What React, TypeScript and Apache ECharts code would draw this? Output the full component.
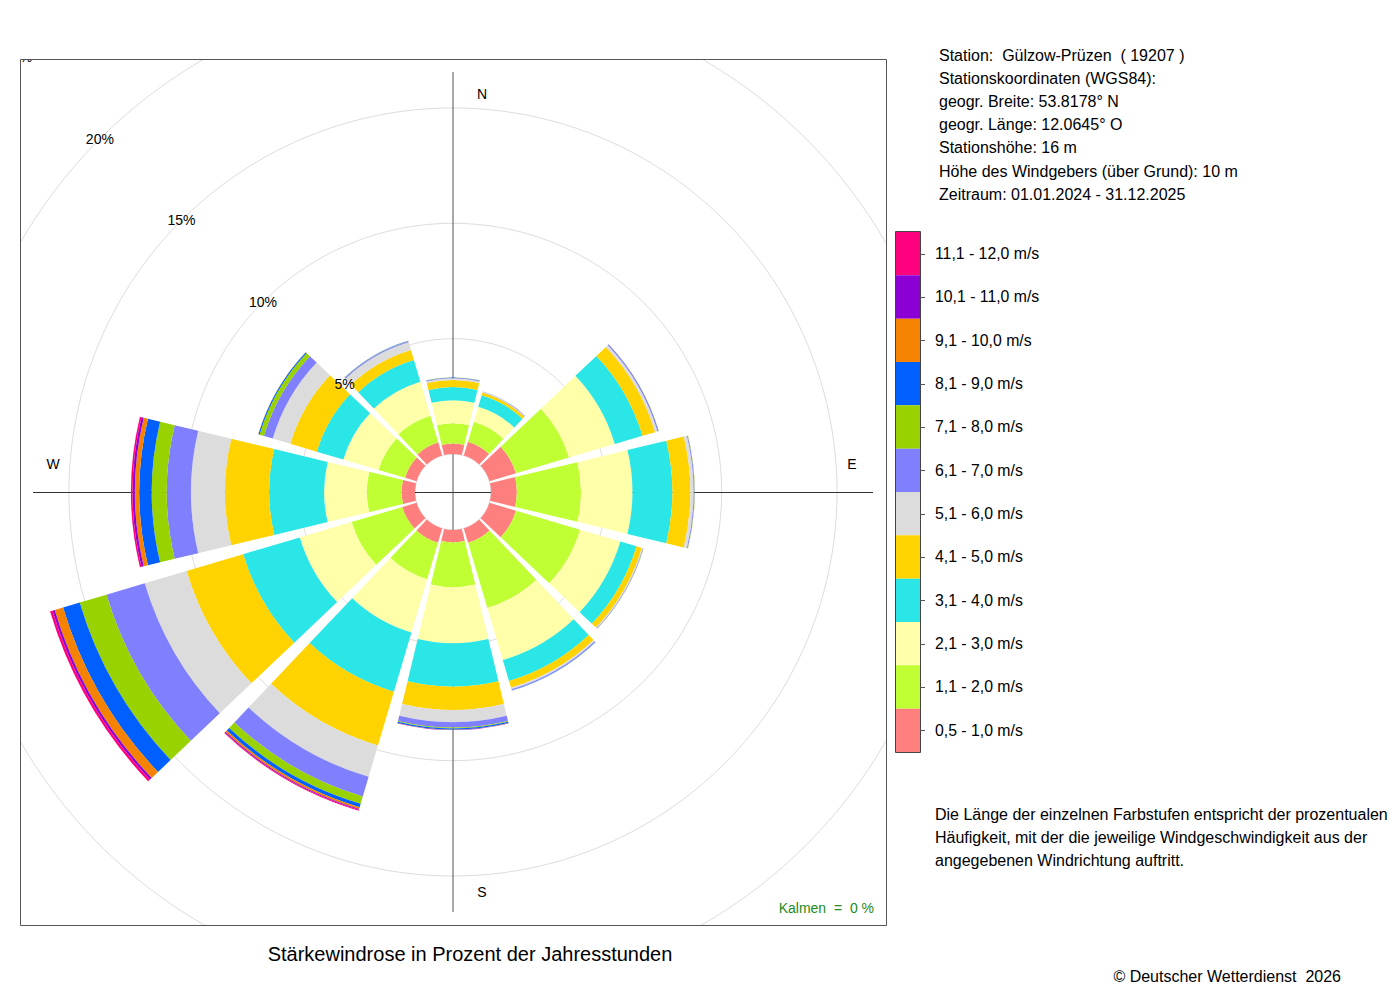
import React, { useEffect, useRef } from 'react';
import * as echarts from 'echarts';

// ---------- data ----------
const directions = ['N', 'NNO', 'ONO', 'O', 'OSO', 'SSO', 'S', 'SSW', 'WSW', 'W', 'WNW', 'NNW'];
const speedClasses = [
  '0,5 - 1,0 m/s', '1,1 - 2,0 m/s', '2,1 - 3,0 m/s', '3,1 - 4,0 m/s',
  '4,1 - 5,0 m/s', '5,1 - 6,0 m/s', '6,1 - 7,0 m/s', '7,1 - 8,0 m/s',
  '8,1 - 9,0 m/s', '9,1 - 10,0 m/s', '10,1 - 11,0 m/s', '11,1 - 12,0 m/s',
];
const classColors = [
  '#FF7F7F', '#BFFF33', '#FFFFAA', '#2AE6E6', '#FFD300', '#DCDCDC',
  '#8080FF', '#98D200', '#0060FF', '#F58200', '#8B00D4', '#FF007F',
];
// percentage of hours per direction (order as in directions)
const s05_10 = [0.45, 0.63, 1.20, 1.12, 1.20, 0.65, 0.54, 0.65, 0.65, 0.58, 0.52, 0.60];
const s11_20 = [0.88, 0.90, 2.40, 2.78, 2.90, 2.95, 1.94, 1.65, 2.29, 1.51, 1.20, 1.20];
const s21_30 = [1.00, 0.68, 2.07, 2.23, 1.82, 2.35, 2.43, 2.40, 2.34, 1.85, 1.59, 1.54];
const s31_40 = [0.57, 0.52, 1.25, 1.73, 0.73, 0.95, 1.88, 2.68, 2.56, 2.38, 1.20, 0.98];
const s41_50 = [0.31, 0.12, 0.57, 0.78, 0.24, 0.30, 1.01, 2.43, 2.56, 1.92, 1.20, 0.45];
const s51_60 = [0.07, 0.03, 0.11, 0.14, 0.05, 0.07, 0.53, 1.42, 1.89, 1.47, 0.79, 0.35];
const s61_70 = [0.03, 0.02, 0.05, 0.04, 0.02, 0.04, 0.23, 0.89, 1.73, 1.05, 0.40, 0.05];
const s71_80 = [0.01, 0.00, 0.01, 0.01, 0.01, 0.01, 0.04, 0.33, 1.21, 0.65, 0.20, 0.01];
const s81_90 = [0.01, 0.00, 0.00, 0.00, 0.00, 0.01, 0.05, 0.15, 0.75, 0.54, 0.05, 0.01];
const s91_100 = [0.00, 0.00, 0.00, 0.00, 0.00, 0.00, 0.01, 0.08, 0.38, 0.19, 0.01, 0.00];
const s101_110 = [0.00, 0.00, 0.00, 0.00, 0.00, 0.00, 0.01, 0.04, 0.10, 0.10, 0.00, 0.00];
const s111_120 = [0.00, 0.00, 0.00, 0.00, 0.00, 0.00, 0.00, 0.04, 0.11, 0.07, 0.00, 0.00];
const classValues = [s05_10, s11_20, s21_30, s31_40, s41_50, s51_60, s61_70, s71_80, s81_90, s91_100, s101_110, s111_120];

const radiusMax = 25;
const radiusStep = 5;

const stationLines = [
  'Station:  Gülzow-Prüzen  ( 19207 )',
  'Stationskoordinaten (WGS84):',
  'geogr. Breite: 53.8178° N',
  'geogr. Länge: 12.0645° O',
  'Stationshöhe: 16 m',
  'Höhe des Windgebers (über Grund): 10 m',
  'Zeitraum: 01.01.2024 - 31.12.2025',
];
const noteLines = [
  'Die Länge der einzelnen Farbstufen entspricht der prozentualen',
  'Häufigkeit, mit der die jeweilige Windgeschwindigkeit aus der',
  'angegebenen Windrichtung auftritt.',
];
const titleText = 'Stärkewindrose in Prozent der Jahresstunden';
const calmText = 'Kalmen  =  0 %';
const copyrightText = '© Deutscher Wetterdienst  2026';
const compassLabels = ['N', 'E', 'S', 'W'];

// ---------- layout ----------
const FONT = '"Liberation Sans", Arial, Helvetica, sans-serif';
const CX = 453;
const CY = 492;
const R0 = 38;
const PX_PER_PCT = 23.07;
const R1 = R0 + radiusMax * PX_PER_PCT;
const FRAME = { x: 20, y: 59, w: 866, h: 866 };
const LEG = { x: 896, y: 232, w: 24, h: 520 };

function txt(text: string, x: number, y: number, size: number, align = 'left', color = '#000', z = 10) {
  return {
    type: 'text',
    x,
    y,
    z,
    silent: true,
    style: {
      text,
      fill: color,
      fontSize: size,
      fontFamily: FONT,
      textAlign: align,
      align,
      textVerticalAlign: 'middle',
      verticalAlign: 'middle',
    },
  };
}

export default function App() {
  const ref = useRef<HTMLDivElement>(null);

  useEffect(() => {
    if (!ref.current) return;
    const chart = echarts.init(ref.current, undefined, { renderer: 'svg' });

    const itemH = LEG.h / speedClasses.length;
    const graphics: any[] = [];

    // masks clipping the polar grid to the frame
    const white = { fill: '#ffffff' };
    graphics.push({ type: 'rect', z: 5, silent: true, shape: { x: 0, y: 0, width: 1400, height: FRAME.y }, style: white });
    graphics.push({ type: 'rect', z: 5, silent: true, shape: { x: 0, y: 0, width: FRAME.x, height: 1000 }, style: white });
    graphics.push({ type: 'rect', z: 5, silent: true, shape: { x: FRAME.x + FRAME.w, y: 0, width: 600, height: 1000 }, style: white });
    graphics.push({ type: 'rect', z: 5, silent: true, shape: { x: 0, y: FRAME.y + FRAME.h, width: 1400, height: 200 }, style: white });
    // frame
    graphics.push({
      type: 'rect', z: 6, silent: true,
      shape: { x: FRAME.x + 0.5, y: FRAME.y + 0.5, width: FRAME.w, height: FRAME.h },
      style: { fill: 'none', stroke: '#555555', lineWidth: 1 },
    });
    // cross lines (behind bars)
    graphics.push({ type: 'line', z: 1, silent: true, shape: { x1: CX, y1: 72, x2: CX, y2: 912 }, style: { stroke: '#555555', lineWidth: 1 } });
    graphics.push({ type: 'line', z: 1, silent: true, shape: { x1: 33, y1: CY + 0.5, x2: 873, y2: CY + 0.5 }, style: { stroke: '#333333', lineWidth: 1 } });
    // compass labels
    graphics.push(txt(compassLabels[0], 482, 94, 14, 'center'));
    graphics.push(txt(compassLabels[1], 852, 464, 14, 'center'));
    graphics.push(txt(compassLabels[2], 482, 892, 14, 'center'));
    graphics.push(txt(compassLabels[3], 53, 464, 14, 'center'));
    // calm
    graphics.push(txt(calmText, 874, 908, 14, 'right', '#228B22'));
    // title
    graphics.push(txt(titleText, 470, 954, 20, 'center'));
    // station info
    stationLines.forEach((l, i) => graphics.push(txt(l, 939, 55 + i * 23.2, 16)));
    // note
    noteLines.forEach((l, i) => graphics.push(txt(l, 935, 814 + i * 23, 16)));
    // copyright
    graphics.push(txt(copyrightText, 1341, 976, 16, 'right'));
    // legend frame + ticks
    graphics.push({
      type: 'rect', z: 11, silent: true,
      shape: { x: LEG.x - 0.5, y: LEG.y - 0.5, width: LEG.w + 1, height: LEG.h + 1 },
      style: { fill: 'none', stroke: '#444444', lineWidth: 1 },
    });
    for (let i = 0; i < speedClasses.length; i++) {
      const y = Math.round(LEG.y + itemH * (i + 0.5)) + 0.5;
      graphics.push({
        type: 'line', z: 11, silent: true,
        shape: { x1: LEG.x + LEG.w, y1: y, x2: LEG.x + LEG.w + 5, y2: y },
        style: { stroke: '#555555', lineWidth: 1 },
      });
    }

    const option: any = {
      animation: false,
      textStyle: { fontFamily: FONT },
      polar: [
        { center: [CX, CY], radius: [R0, R1] },
        { center: [CX, CY], radius: [R0, R1] },
      ],
      angleAxis: [
        {
          polarIndex: 0, type: 'category', data: directions, startAngle: 105, clockwise: true,
          axisLine: { show: false }, axisTick: { show: false }, axisLabel: { show: false }, splitLine: { show: false },
        },
        { polarIndex: 1, type: 'value', min: 0, max: 360, startAngle: 135, show: false },
      ],
      radiusAxis: [
        {
          polarIndex: 0, type: 'value', min: 0, max: radiusMax, interval: radiusStep,
          axisLine: { show: false }, axisTick: { show: false }, axisLabel: { show: false },
          splitLine: { show: true, lineStyle: { color: '#DDDDDD', width: 1 } },
        },
        {
          polarIndex: 1, type: 'value', min: 0, max: radiusMax, interval: radiusStep, z: 3,
          axisLine: { show: false }, axisTick: { show: false }, splitLine: { show: false },
          axisLabel: {
            show: true, margin: 0, align: 'center', verticalAlign: 'middle',
            fontSize: 14, color: '#000', fontFamily: FONT,
            formatter: (v: number) => (v === 0 ? '' : v + '%'),
          },
        },
      ],
      legend: {
        orient: 'vertical', left: LEG.x, top: LEG.y, padding: 0, itemGap: 0,
        itemWidth: LEG.w, itemHeight: itemH, icon: 'rect', selectedMode: false, z: 10,
        data: [...speedClasses].reverse(),
        textStyle: { fontSize: 15.8, color: '#000', fontFamily: FONT, padding: [0, 0, 0, 10] },
      },
      series: classValues.map((vals, i) => ({
        type: 'bar',
        name: speedClasses[i],
        coordinateSystem: 'polar',
        polarIndex: 0,
        stack: 'wind',
        data: vals,
        barCategoryGap: '10%',
        itemStyle: { color: classColors[i] },
        emphasis: { disabled: true },
        silent: true,
      })),
      graphic: { elements: graphics },
    };

    chart.setOption(option);
    return () => chart.dispose();
  }, []);

  return <div ref={ref} style={{ position: 'fixed', left: 0, top: 0, width: 1400, height: 1000, background: '#fff' }} />;
}
